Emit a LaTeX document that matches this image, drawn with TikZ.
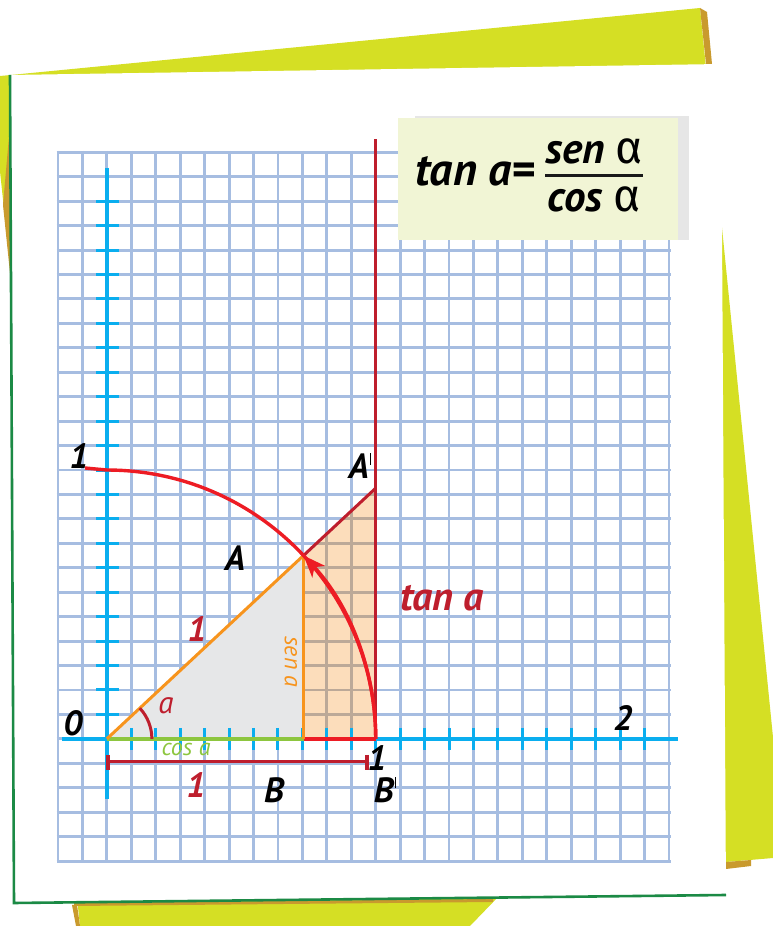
\documentclass[tikz,border=0pt]{standalone}
\usepackage{fontspec}
\setmainfont{PT Sans}
\newfontfamily\grk{Fira Sans}
\usetikzlibrary{arrows.meta}
\definecolor{yell}{HTML}{D5DF24}
\definecolor{ybrown}{HTML}{C99A2E}
\definecolor{sheetgreen}{HTML}{1B8A45}
\definecolor{gridc}{HTML}{A6BDE1}
\definecolor{gridoc}{HTML}{BCA998}
\definecolor{axisblue}{HTML}{0AAEEF}
\definecolor{trigrey}{HTML}{E6E7E8}
\definecolor{tanfill}{HTML}{FCDDBB}
\definecolor{orangeline}{HTML}{F7941D}
\definecolor{greenline}{HTML}{8DC63F}
\definecolor{redb}{HTML}{ED1C24}
\definecolor{redd}{HTML}{BE1E2D}
\definecolor{boxfill}{HTML}{F1F5D5}
\definecolor{boxshadow}{HTML}{E6E6E6}
\newcommand{\fs}[1]{\fontsize{#1}{#1}\selectfont}
\newcommand{\primebar}{\kern1pt\rule[0.40em]{1.6pt}{0.32em}}
\tikzset{
  gridline/.style={gridc, line width=2.9pt},
  gridover/.style={gridoc, line width=2.9pt},
  axisline/.style={axisblue, line width=3.4pt},
  tickline/.style={axisblue, line width=3pt},
  blacklabel/.style={font=\fs{35}\bfseries\itshape, text=black, inner sep=0pt},
  redlabel/.style={font=\fs{35}\bfseries\itshape, text=redd, inner sep=0pt},
}
\begin{document}
\begin{tikzpicture}[x=1pt,y=1pt]
\useasboundingbox (0,0) rectangle (773,926);
% ---------- background sheets ----------
\fill[yell] (-10,849) -- (700,918) -- (785,69) -- (726,64) -- (500,31) -- (470,0) -- (80,0) -- cycle;
\fill[ybrown] (700,918) -- (707,914) -- (712,862) -- (706,862) -- cycle;
\fill[ybrown] (726,64) -- (751,66) -- (751,60) -- (726,57) -- cycle;
\fill[ybrown] (72,21) -- (77,21) -- (80,0) -- (76,0) -- cycle;
\fill[ybrown] (74,23) -- (493,27) -- (493,24) -- (74,20) -- cycle;
\fill[ybrown] (10,801) -- (3,721) -- (10,653) -- cycle;
\fill[white] (10,851) -- (721,862) -- (726,31) -- (14,23) -- cycle;
\draw[sheetgreen, line width=2.6pt] (10,851) -- (14,23) -- (726,31);
% ---------- coordinates ----------
\coordinate (O) at (106.88,187.14);
\coordinate (T) at (106.88,455.98);
\coordinate (Bp) at (375.72,187.14);
\coordinate (A) at (303.51,370.49);
\coordinate (B) at (303.51,187.14);
\coordinate (Ap) at (375.72,437.84);
\coordinate (TanTop) at (375.72,787);
% ---------- grid ----------
\foreach \k in {0,...,25}
  \draw[gridline] ({58+\k*24.44},775.1) -- ({58+\k*24.44},63.5);
\foreach \j in {0,...,29}
  \draw[gridline] (56.5,{773.7-\j*24.44}) -- (670.5,{773.7-\j*24.44});
% ---------- filled regions ----------
\fill[trigrey] (O) -- (B) -- (A) -- cycle;
\fill[tanfill] (B) -- (Bp) -- (Ap) -- (A) -- cycle;
\begin{scope}
  \clip (B) -- (Bp) -- (Ap) -- (A) -- cycle;
  \foreach \k in {10,...,13}
    \draw[gridover] ({58+\k*24.44},773.7) -- ({58+\k*24.44},64.94);
  \foreach \j in {9,...,24}
    \draw[gridover] (56.7,{773.7-\j*24.44}) -- (670.4,{773.7-\j*24.44});
\end{scope}
% ---------- axes ----------
\draw[axisline] (106.88,758) coordinate (ytop) -- (106.88,127) coordinate (ybot);
\foreach \j in {2,...,23}
  \draw[tickline] (96,{773.7-\j*24.44}) -- (119,{773.7-\j*24.44});
\draw[axisline] (62,187.14) coordinate (xl) -- (678,187.14) coordinate (xr);
\foreach \k in {3,...,24}
  \draw[tickline] ({58+\k*24.44},198) -- ({58+\k*24.44},176);
% ---------- triangle lines ----------
\draw[greenline, line width=3.6pt] (O) -- (B);
\draw[redb, line width=3.6pt] (B) -- (Bp);
\draw[orangeline, line width=3pt] (O) -- (A);
\draw[orangeline, line width=3pt] (B) -- (A);
\draw[redd, line width=3pt] (A) -- (Ap);
\draw[redd, line width=3pt] (Bp) -- (TanTop);
% ---------- circle arc ----------
\draw[redb, line width=3.4pt] (85,458) -- (T) arc[start angle=90, end angle=0, radius=268.84];
\draw[redb, line width=3.4pt, -{Stealth[length=22pt,width=17pt,inset=6pt]}] (Bp) arc[start angle=0, end angle=43, radius=268.84];
% angle mark
\draw[redd, line width=3pt] ([shift={(45,0)}]O) arc[start angle=0, end angle=43, radius=45];
% dimension line
\draw[redd, line width=3pt] (108,164) coordinate (dl) -- (367,164) coordinate (dr);
\draw[redd, line width=3.6pt] (108,171) -- (108,156);
\draw[redd, line width=3.6pt] (367,171) -- (367,156);
% ---------- formula box ----------
\fill[boxshadow] (415,810) rectangle (689,686);
\fill[boxfill] (398,808) rectangle (678,686);
\node[font=\fs{46}\bfseries\itshape, anchor=base west, inner sep=0pt] (ftan) at (415,740) {tan a=};
\node[font=\fs{43}\bfseries\itshape, anchor=base, inner sep=0pt] (fnum) at (594,762) {sen {\grk\fs{46}\mdseries\upshape α}};
\node[font=\fs{43}\bfseries\itshape, anchor=base, inner sep=0pt] (fden) at (594,714) {cos {\grk\fs{46}\mdseries\upshape α}};
\draw[black!90, line width=3pt] (545,750) -- (643,750);
% ---------- labels ----------
\node[blacklabel] (l1top) at (79,470) {1};
\node[blacklabel] (lAp) at (360,460) {A\primebar};
\node[blacklabel] (lA) at (235,368) {A};
\node[redlabel, font=\fs{40}\bfseries\itshape] (ltan) at (442,328) {tan a};
\node[redlabel] (l1hyp) at (197,297) {1};
\node[font=\fs{24}\itshape, text=orangeline, rotate=-90, inner sep=0pt] (lsen) at (291,264) {sen a};
\node[blacklabel] (l0) at (73,203) {0};
\node[font=\fs{31}\itshape, text=redd, inner sep=0pt] (la) at (166,220) {a};
\node[font=\fs{24}\itshape, text=greenline, inner sep=0pt] (lcos) at (186,177) {cos a};
\node[redlabel] (l1dim) at (196,141) {1};
\node[blacklabel] (l1x) at (377,168) {1};
\node[blacklabel] (lB) at (274,136) {B};
\node[blacklabel] (lBp) at (385,136) {B\primebar};
\node[blacklabel] (l2) at (623,208) {2};
\end{tikzpicture}
\end{document}
